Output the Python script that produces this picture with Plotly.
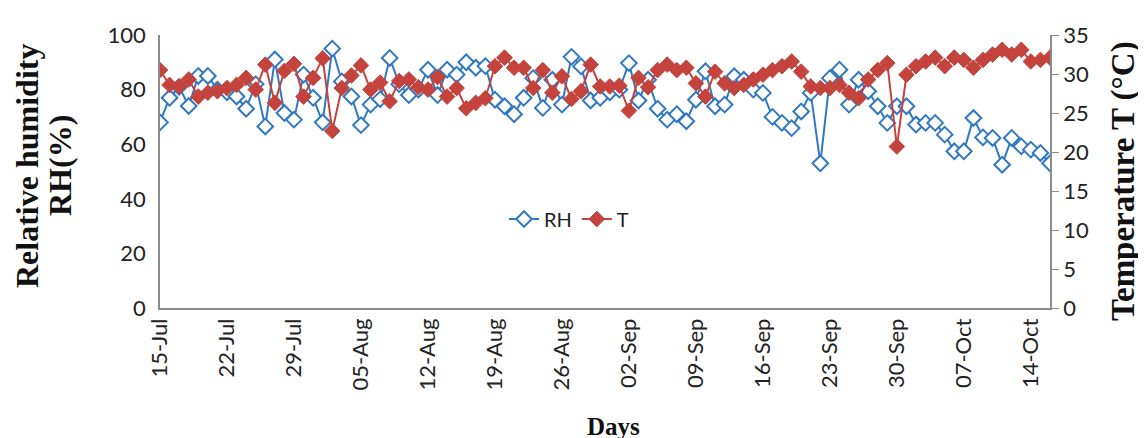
import datetime as dt
import plotly.graph_objects as go

start = dt.date(2015, 7, 15)

rh = [68, 77, 81, 74, 85, 85, 80, 79, 77.5, 73,
      82, 66.5, 91, 71.4, 69, 85.5, 77, 68, 95, 83,
      77.5, 67, 74.5, 76.5, 91.6, 82, 78, 80, 87.3, 78,
      87.3, 85.5, 90, 88, 88.6, 76.3, 73.9, 71, 77, 84.2,
      73.3, 83.6, 74.5, 92, 88.5, 76, 77, 79, 80, 89.7,
      76, 83.6, 73, 69, 71, 68.4, 76.3, 86.7, 73.9, 74.5,
      84.9, 83.6, 80, 78.8, 70, 67.8, 65.9, 72, 78.8, 53,
      84.2, 87.3, 74.5, 83.6, 79.4, 73.9, 67.8, 73.9, 73.9, 67.2,
      67.8, 67.8, 63.5, 57.4, 57.4, 69.6, 62.5, 62.3, 52.5, 62.3,
      59.2, 58, 56.8, 53]

temp = [30.5, 28.6, 28.4, 29.3, 27.1, 27.6, 27.8, 28.2, 28.6, 29.5,
        28.0, 31.2, 26.3, 30.4, 31.3, 27.1, 29.5, 32.0, 22.7, 28.2,
        29.8, 31.1, 28.0, 28.9, 26.5, 29.1, 29.3, 28.3, 28.0, 29.6,
        27.1, 28.2, 25.6, 26.3, 26.9, 31.0, 32.1, 30.8, 30.8, 28.2,
        30.5, 27.6, 29.7, 26.8, 27.8, 31.2, 28.4, 28.4, 28.5, 25.3,
        29.5, 28.3, 30.5, 31.2, 30.5, 30.8, 28.8, 27.1, 30.3, 28.8,
        28.2, 28.6, 29.3, 29.9, 30.5, 31.0, 31.6, 30.3, 28.4, 28.2,
        28.2, 28.6, 27.6, 26.9, 29.3, 30.5, 31.4, 20.7, 29.9, 31.0,
        31.6, 32.1, 31.0, 32.1, 31.8, 30.8, 31.8, 32.5, 33.1, 32.5,
        33.1, 31.6, 31.8, 32.1]

days = [start + dt.timedelta(days=i) for i in range(len(rh))]
tick_dates = [start + dt.timedelta(days=7 * k) for k in range(14)]

rh_ticks = [0, 20, 40, 60, 80, 100]
t_ticks = [0, 5, 10, 15, 20, 25, 30, 35]

BLUE = "#3078C2"
RED = "#C4433C"
AX = "#8C8C8C"
TICKFONT = dict(family="Lato, Open Sans, sans-serif", size=22, color="#222222")
SERIF = "Liberation Serif, Times New Roman, serif"

fig = go.Figure()
fig.add_trace(go.Scatter(
    x=days, y=rh, name="RH", mode="lines+markers",
    line=dict(color=BLUE, width=2),
    marker=dict(symbol="diamond", size=12, color="white", line=dict(color=BLUE, width=2)),
))
fig.add_trace(go.Scatter(
    x=days, y=temp, name="T", mode="lines+markers", yaxis="y2",
    line=dict(color=RED, width=2),
    marker=dict(symbol="diamond", size=12, color=RED, line=dict(color=RED, width=1)),
))

def px_x(p):
    return (p - 152) / 890.0

def px_y(p):
    return (300 - p) / 273.0

fig.update_layout(
    width=1146, height=438,
    margin=dict(l=152, r=104, t=27, b=138),
    paper_bgcolor="white", plot_bgcolor="white",
    showlegend=True,
    legend=dict(orientation="h", x=px_x(496), y=px_y(211), xanchor="left", yanchor="middle",
                font=dict(family="Lato, Open Sans, sans-serif", size=20, color="#222222"),
                bgcolor="rgba(0,0,0,0)"),
    xaxis=dict(
        type="date",
        range=[start, start + dt.timedelta(days=93)],
        tickvals=tick_dates, tickformat="%d-%b", tickangle=-90,
        tickfont=TICKFONT, showgrid=False, zeroline=False,
        showline=True, linecolor=AX, linewidth=1.5,
        ticks="", ticklabelstandoff=0,
    ),
    yaxis=dict(
        range=[0, 100], tickvals=rh_ticks, tickfont=TICKFONT,
        showgrid=False, zeroline=False, showline=True, linecolor=AX, linewidth=1.5,
        ticks="", ticklabelstandoff=8,
    ),
    yaxis2=dict(
        range=[0, 35], tickvals=t_ticks, tickfont=TICKFONT, overlaying="y", side="right",
        showgrid=False, zeroline=False, showline=True, linecolor=AX, linewidth=1.5,
        ticks="outside", ticklen=7, tickcolor=AX, tickwidth=1,
    ),
    annotations=[
        dict(text="<b>Relative humidity</b>", textangle=-90, xref="paper", yref="paper",
             x=px_x(19), y=px_y(158), xanchor="center", yanchor="middle", showarrow=False,
             font=dict(family=SERIF, size=32, color="#111111")),
        dict(text="<b>RH(%)</b>", textangle=-90, xref="paper", yref="paper",
             x=px_x(52), y=px_y(158), xanchor="center", yanchor="middle", showarrow=False,
             font=dict(family=SERIF, size=32, color="#111111")),
        dict(text="<b>Temperature T (°C)</b>", textangle=-90, xref="paper", yref="paper",
             x=px_x(1115), y=px_y(173), xanchor="center", yanchor="middle", showarrow=False,
             font=dict(family=SERIF, size=33, color="#111111")),
        dict(text="<b>Days</b>", xref="paper", yref="paper", x=px_x(605), y=px_y(418),
             xanchor="center", yanchor="middle", showarrow=False,
             font=dict(family=SERIF, size=25, color="#111111")),
    ],
)

fig.write_html("out.html")
